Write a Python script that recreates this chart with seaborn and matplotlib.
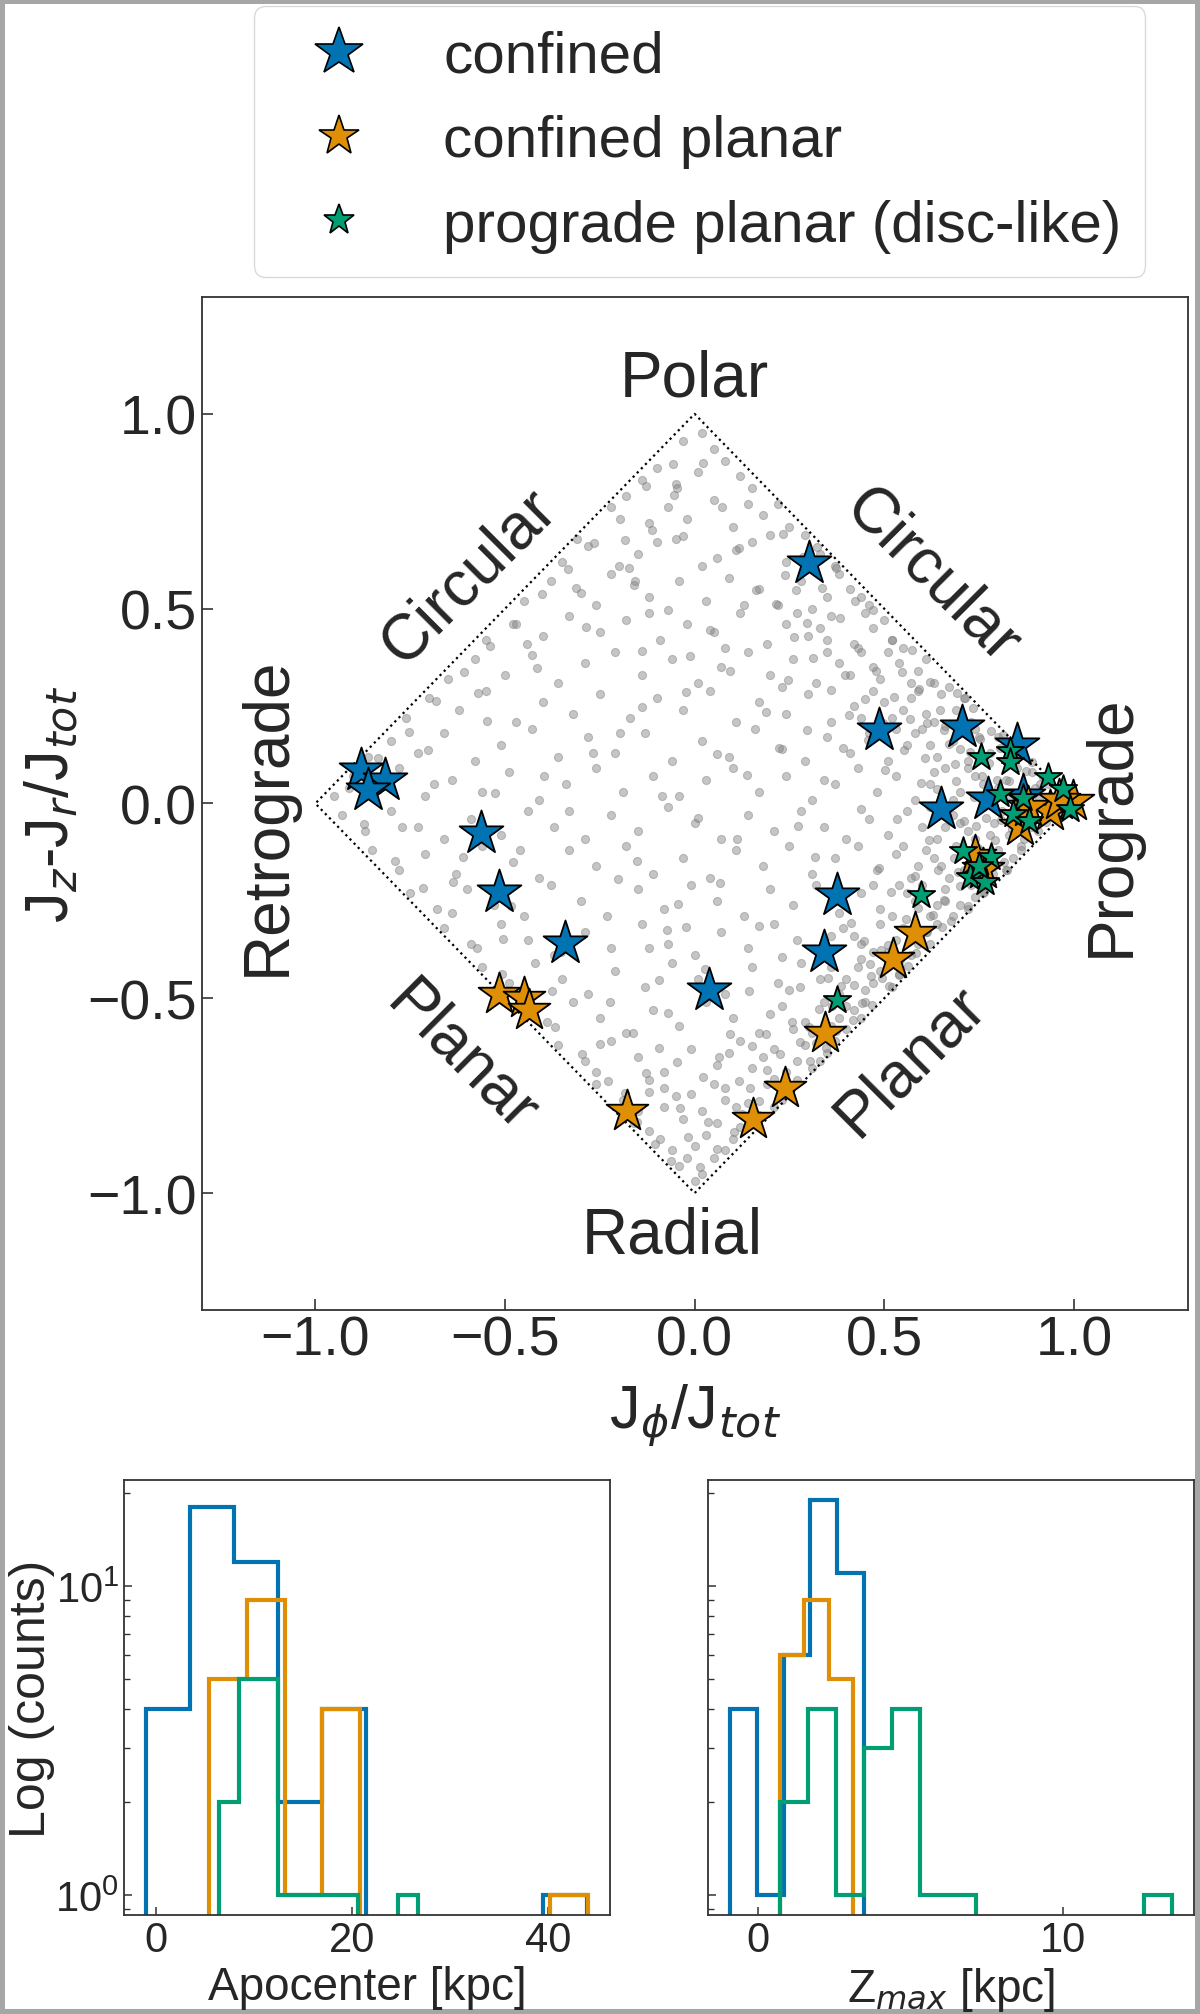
import matplotlib
matplotlib.use("Agg")
import matplotlib.pyplot as plt
from matplotlib.lines import Line2D
import numpy as np
import pandas as pd
import seaborn as sns

# --- star samples in action space (J_phi/J_tot, (J_z-J_r)/J_tot) ---
confined_jphi = [0.302, 0.485, 0.705, 0.850, 0.650, 0.774, 0.866, 0.375, 0.341,
                 0.039, -0.342, -0.515, -0.563, -0.880, -0.817, -0.862]
confined_jzr = [0.617, 0.188, 0.197, 0.150, -0.015, 0.012, 0.020, -0.235, -0.380,
                -0.480, -0.357, -0.226, -0.075, 0.085, 0.060, 0.035]

planar_jphi = [-0.515, -0.449, -0.436, -0.178, 0.153, 0.237, 0.344, 0.522, 0.581,
               0.998, 0.936, 0.857, 0.760, 0.740, 0.880, 0.960]
planar_jzr = [-0.489, -0.499, -0.530, -0.790, -0.809, -0.730, -0.589, -0.399, -0.333,
              0.007, -0.018, -0.057, -0.168, -0.135, -0.010, 0.010]

disc_jphi = [0.756, 0.831, 0.831, 0.804, 0.866, 0.932, 0.971, 0.989, 0.839, 0.883,
             0.708, 0.782, 0.725, 0.765, 0.598, 0.375, 0.750]
disc_jzr = [0.119, 0.136, 0.106, 0.024, 0.015, 0.067, 0.037, -0.014, -0.027, -0.044,
            -0.121, -0.138, -0.189, -0.202, -0.235, -0.504, -0.160]

# background field stars (grey cloud)
field_points = [
    (0.02, 0.95), (-0.03, 0.93), (0.05, 0.91),
    (-0.10, 0.86), (0.08, 0.88), (0.12, 0.84), (-0.05, 0.82), (0.15, 0.81), (0.01, 0.85), (-0.14, 0.83),
    (-0.22, 0.76), (-0.12, 0.72), (0.05, 0.78), (0.18, 0.74), (0.25, 0.71), (-0.02, 0.73), (0.10, 0.71),
    (-0.18, 0.79), (0.14, 0.77), (-0.07, 0.76), (0.22, 0.77),
    (-0.35, 0.62), (-0.28, 0.66), (-0.15, 0.64), (-0.05, 0.68), (0.06, 0.63), (0.15, 0.67), (0.24, 0.62),
    (0.33, 0.64), (0.29, 0.69), (-0.20, 0.61), (0.02, 0.61), (-0.10, 0.67), (0.11, 0.65), (0.37, 0.61),
    (0.20, 0.69), (-0.31, 0.68),
    (-0.45, 0.52), (-0.38, 0.57), (-0.30, 0.54), (-0.22, 0.59), (-0.12, 0.53), (-0.04, 0.57), (0.03, 0.52),
    (0.09, 0.58), (0.17, 0.55), (0.22, 0.51), (0.28, 0.57), (0.35, 0.53), (0.41, 0.55), (0.46, 0.51),
    (-0.16, 0.56), (0.13, 0.51), (0.38, 0.59), (-0.26, 0.51), (0.31, 0.50), (0.44, 0.53),
    (-0.55, 0.42), (-0.48, 0.46), (-0.40, 0.43), (-0.33, 0.48), (-0.25, 0.44), (-0.18, 0.47), (-0.09, 0.42),
    (-0.02, 0.46), (0.05, 0.44), (0.12, 0.49), (0.19, 0.41), (0.24, 0.46), (0.30, 0.43), (0.36, 0.48),
    (0.42, 0.41), (0.47, 0.45), (0.52, 0.42), (0.55, 0.40), (0.33, 0.45), (0.45, 0.49), (-0.12, 0.49),
    (0.08, 0.40), (0.27, 0.49), (0.50, 0.47),
    (-0.65, 0.32), (-0.58, 0.37), (-0.50, 0.33), (-0.43, 0.38), (-0.36, 0.31), (-0.29, 0.36), (-0.21, 0.39),
    (-0.14, 0.33), (-0.06, 0.37), (0.01, 0.31), (0.07, 0.35), (0.14, 0.39), (0.20, 0.33), (0.26, 0.37),
    (0.32, 0.31), (0.38, 0.36), (0.44, 0.39), (0.49, 0.32), (0.54, 0.36), (0.59, 0.34), (0.63, 0.31),
    (0.41, 0.33), (0.51, 0.39), (0.57, 0.31), (0.35, 0.39), (0.47, 0.35), (0.61, 0.37), (0.23, 0.30),
    (-0.76, 0.22), (-0.70, 0.27), (-0.62, 0.24), (-0.55, 0.29), (-0.47, 0.21), (-0.40, 0.26), (-0.32, 0.23),
    (-0.25, 0.28), (-0.17, 0.22), (-0.10, 0.27), (-0.03, 0.24), (0.04, 0.29), (0.11, 0.21), (0.17, 0.26),
    (0.24, 0.23), (0.30, 0.28), (0.36, 0.21), (0.42, 0.25), (0.47, 0.29), (0.52, 0.22), (0.57, 0.27),
    (0.61, 0.23), (0.65, 0.28), (0.69, 0.24), (0.73, 0.21), (0.55, 0.24), (0.63, 0.21), (0.67, 0.30),
    (0.44, 0.22), (0.59, 0.29), (0.71, 0.27), (0.50, 0.26),
    (-0.86, 0.12), (-0.80, 0.16), (-0.73, 0.13), (-0.66, 0.18), (-0.58, 0.11), (-0.51, 0.15), (-0.43, 0.19),
    (-0.36, 0.12), (-0.28, 0.17), (-0.21, 0.13), (-0.13, 0.18), (-0.06, 0.11), (0.02, 0.16), (0.09, 0.12),
    (0.16, 0.19), (0.23, 0.14), (0.29, 0.11), (0.35, 0.17), (0.41, 0.13), (0.46, 0.18), (0.51, 0.11),
    (0.56, 0.15), (0.60, 0.19), (0.64, 0.12), (0.68, 0.16), (0.72, 0.11), (0.75, 0.17), (0.78, 0.13),
    (0.82, 0.11), (0.66, 0.20), (0.70, 0.14), (0.74, 0.19), (0.80, 0.17), (0.62, 0.15), (0.85, 0.12),
    (0.58, 0.18), (0.76, 0.12), (0.53, 0.19),
    (-0.95, 0.02), (-0.90, 0.07), (-0.84, 0.04), (-0.78, 0.09), (-0.71, 0.02), (-0.64, 0.06), (-0.56, 0.03),
    (-0.49, 0.08), (-0.41, 0.01), (-0.34, 0.05), (-0.26, 0.09), (-0.19, 0.03), (-0.11, 0.07), (-0.04, 0.02),
    (0.03, 0.06), (0.10, 0.09), (0.17, 0.03), (0.24, 0.07), (0.31, 0.01), (0.37, 0.05), (0.43, 0.09),
    (0.48, 0.03), (0.53, 0.07), (0.58, 0.01), (0.62, 0.05), (0.66, 0.09), (0.70, 0.03), (0.74, 0.07),
    (0.78, 0.02), (0.82, 0.06), (0.85, 0.09), (0.88, 0.03), (0.91, 0.05), (0.94, 0.02), (0.72, 0.09),
    (0.80, 0.04), (0.86, 0.01), (0.76, 0.05), (0.68, 0.01), (0.89, 0.08), (0.63, 0.08), (0.83, 0.02),
    (-0.93, -0.03), (-0.87, -0.07), (-0.80, -0.02), (-0.73, -0.06), (-0.66, -0.09), (-0.59, -0.04),
    (-0.51, -0.08), (-0.44, -0.02), (-0.37, -0.06), (-0.29, -0.09), (-0.22, -0.03), (-0.15, -0.07),
    (-0.07, -0.01), (0.00, -0.05), (0.07, -0.09), (0.14, -0.03), (0.21, -0.07), (0.28, -0.02),
    (0.34, -0.06), (0.40, -0.09), (0.46, -0.04), (0.51, -0.08), (0.56, -0.02), (0.60, -0.06),
    (0.64, -0.09), (0.68, -0.03), (0.72, -0.07), (0.76, -0.01), (0.79, -0.05), (0.83, -0.08),
    (0.86, -0.03), (0.89, -0.06), (0.92, -0.02), (0.96, -0.03), (0.70, -0.05), (0.81, -0.02),
    (0.74, -0.09), (0.87, -0.01), (0.66, -0.06), (0.78, -0.08), (0.90, -0.04), (0.62, -0.01),
    (-0.85, -0.12), (-0.78, -0.17), (-0.71, -0.13), (-0.63, -0.18), (-0.56, -0.11), (-0.48, -0.15),
    (-0.41, -0.19), (-0.33, -0.12), (-0.26, -0.16), (-0.18, -0.11), (-0.11, -0.18), (-0.03, -0.14),
    (0.04, -0.19), (0.11, -0.12), (0.18, -0.16), (0.25, -0.11), (0.31, -0.18), (0.37, -0.14),
    (0.43, -0.11), (0.48, -0.17), (0.53, -0.13), (0.57, -0.19), (0.61, -0.12), (0.65, -0.16),
    (0.69, -0.11), (0.73, -0.15), (0.77, -0.19), (0.80, -0.12), (0.84, -0.14), (0.67, -0.19),
    (0.71, -0.17), (0.75, -0.12), (0.63, -0.14), (0.79, -0.16), (0.59, -0.16), (0.86, -0.11),
    (0.55, -0.11), (0.82, -0.17),
    (-0.75, -0.23), (-0.68, -0.27), (-0.60, -0.22), (-0.53, -0.26), (-0.45, -0.29), (-0.38, -0.21),
    (-0.30, -0.25), (-0.23, -0.29), (-0.15, -0.22), (-0.08, -0.27), (-0.01, -0.21), (0.06, -0.25),
    (0.13, -0.29), (0.20, -0.22), (0.26, -0.26), (0.32, -0.21), (0.38, -0.28), (0.44, -0.23),
    (0.49, -0.27), (0.54, -0.21), (0.58, -0.25), (0.62, -0.29), (0.66, -0.22), (0.70, -0.26),
    (0.73, -0.21), (0.76, -0.23), (0.64, -0.26), (0.68, -0.29), (0.60, -0.21), (0.72, -0.27),
    (0.52, -0.29), (0.56, -0.23), (0.47, -0.21), (0.74, -0.24), (0.66, -0.25),
    (-0.66, -0.32), (-0.59, -0.36), (-0.51, -0.31), (-0.44, -0.35), (-0.37, -0.39), (-0.29, -0.33),
    (-0.22, -0.37), (-0.14, -0.31), (-0.07, -0.36), (0.00, -0.39), (0.07, -0.33), (0.14, -0.37),
    (0.21, -0.31), (0.27, -0.35), (0.33, -0.39), (0.39, -0.32), (0.44, -0.36), (0.49, -0.31),
    (0.53, -0.35), (0.57, -0.39), (0.61, -0.33), (0.64, -0.31), (0.55, -0.32), (0.59, -0.36),
    (0.47, -0.38), (0.62, -0.36), (0.51, -0.38), (0.42, -0.34), (0.57, -0.34), (0.36, -0.34),
    (-0.56, -0.42), (-0.49, -0.46), (-0.42, -0.41), (-0.35, -0.45), (-0.28, -0.49), (-0.21, -0.43),
    (-0.13, -0.47), (-0.06, -0.41), (0.01, -0.45), (0.08, -0.49), (0.15, -0.42), (0.22, -0.46),
    (0.28, -0.41), (0.33, -0.45), (0.38, -0.49), (0.43, -0.42), (0.47, -0.46), (0.51, -0.41),
    (0.54, -0.44), (0.45, -0.48), (0.49, -0.43), (0.40, -0.45), (0.52, -0.47), (0.36, -0.42),
    (0.25, -0.48), (0.44, -0.40),
    (-0.46, -0.52), (-0.39, -0.56), (-0.32, -0.51), (-0.25, -0.55), (-0.18, -0.59), (-0.11, -0.53),
    (-0.04, -0.57), (0.03, -0.51), (0.10, -0.55), (0.17, -0.59), (0.23, -0.52), (0.29, -0.56),
    (0.34, -0.51), (0.38, -0.55), (0.42, -0.53), (0.45, -0.51), (0.31, -0.59), (0.40, -0.58),
    (0.36, -0.57), (0.20, -0.54), (0.44, -0.55), (0.26, -0.58),
    (-0.36, -0.62), (-0.29, -0.66), (-0.22, -0.61), (-0.15, -0.65), (-0.08, -0.69), (-0.01, -0.63),
    (0.06, -0.67), (0.12, -0.61), (0.18, -0.65), (0.24, -0.69), (0.29, -0.62), (0.33, -0.66),
    (0.37, -0.61), (0.27, -0.66), (0.31, -0.68), (0.21, -0.63), (0.35, -0.64), (-0.26, -0.69),
    (0.15, -0.68), (0.09, -0.64),
    (-0.26, -0.72), (-0.19, -0.76), (-0.12, -0.71), (-0.05, -0.75), (0.02, -0.79), (0.08, -0.73),
    (0.14, -0.77), (0.19, -0.72), (0.23, -0.76), (0.27, -0.71), (0.11, -0.78), (-0.08, -0.78),
    (0.17, -0.80), (0.05, -0.72), (-0.15, -0.79), (0.21, -0.78),
    (-0.16, -0.82), (-0.09, -0.86), (-0.03, -0.81), (0.03, -0.85), (0.08, -0.89), (0.12, -0.83),
    (0.16, -0.81), (-0.06, -0.89), (0.00, -0.88), (0.06, -0.82), (-0.12, -0.84), (0.10, -0.86),
    (-0.04, -0.93), (0.02, -0.95), (0.05, -0.91), (-0.02, -0.91), (0.00, -0.97),
]

# extra field stars where the cloud is densest (prograde corner, lower-right edge)
field_points_dense = [
    (0.613, 0.207), (0.648, 0.241), (0.671, 0.153), (0.692, 0.284), (0.717, 0.198), (0.733, 0.244),
    (0.758, 0.071), (0.781, 0.187), (0.804, 0.142), (0.829, 0.058), (0.851, 0.117), (0.874, 0.083),
    (0.897, 0.041), (0.918, 0.069), (0.943, 0.011), (0.962, 0.027), (0.607, 0.118), (0.639, 0.037),
    (0.663, -0.021), (0.687, 0.102), (0.709, -0.046), (0.726, 0.131), (0.747, -0.114), (0.768, -0.037),
    (0.793, -0.093), (0.816, -0.151), (0.838, -0.066), (0.861, -0.119), (0.884, -0.022), (0.906, -0.071),
    (0.927, -0.048), (0.951, -0.019), (0.618, -0.093), (0.642, -0.171), (0.658, -0.248), (0.683, -0.139),
    (0.701, -0.213), (0.722, -0.262), (0.741, -0.057), (0.763, -0.228), (0.786, -0.181), (0.809, -0.043),
    (0.823, -0.171), (0.846, -0.009), (0.869, -0.091), (0.613, -0.331), (0.629, -0.287), (0.652, -0.318),
    (0.676, -0.301), (0.694, -0.176), (0.603, -0.228), (0.621, 0.312), (0.657, 0.189), (0.689, 0.059),
    (0.712, 0.271), (0.737, 0.017), (0.752, 0.166), (0.776, 0.104), (0.798, 0.061), (0.813, 0.177),
    (0.842, 0.153), (0.866, 0.044), (0.889, 0.107), (0.908, 0.012), (0.931, 0.049),
    (0.214, 0.512), (0.238, 0.587), (0.263, 0.428), (0.287, 0.633), (0.311, 0.374), (0.336, 0.552),
    (0.359, 0.291), (0.383, 0.477), (0.407, 0.226), (0.431, 0.398), (0.456, 0.163), (0.478, 0.341),
    (0.502, 0.086), (0.527, 0.274), (0.551, 0.137), (0.574, 0.393), (0.596, 0.052), (0.223, 0.143),
    (0.247, 0.317), (0.272, -0.058), (0.296, 0.189), (0.318, -0.137), (0.342, 0.061), (0.367, -0.251),
    (0.392, 0.142), (0.413, -0.307), (0.438, -0.013), (0.462, -0.412), (0.486, -0.166), (0.509, -0.364),
    (0.533, -0.041), (0.558, -0.297), (0.582, -0.187), (0.231, -0.394), (0.256, -0.561), (0.279, -0.472),
    (0.303, -0.662), (0.327, -0.528), (0.351, -0.447), (0.374, -0.583), (0.398, -0.521), (0.421, -0.467),
    (0.447, -0.353), (0.469, -0.517), (0.493, -0.448), (0.517, -0.226), (0.541, -0.403), (0.566, -0.352),
    (0.588, -0.267), (0.209, -0.708), (0.226, -0.642), (0.252, -0.724), (0.277, -0.611), (0.301, -0.573),
    (0.321, -0.614), (0.346, -0.628), (0.362, -0.519), (0.386, -0.468), (0.418, -0.556), (0.441, -0.511),
    (0.466, -0.442), (0.491, -0.377), (0.513, -0.469), (0.539, -0.437), (0.563, -0.418), (0.584, -0.383),
    (0.232, 0.691), (0.267, 0.548), (0.296, 0.462), (0.322, 0.658), (0.348, 0.419), (0.373, 0.604),
    (0.397, 0.331), (0.423, 0.521), (0.448, 0.268), (0.471, 0.497), (0.497, 0.206), (0.521, 0.419),
    (0.546, 0.337), (0.569, 0.218), (0.591, 0.293),
    (-0.183, -0.742), (-0.151, -0.817), (-0.127, -0.693), (-0.104, -0.874), (-0.082, -0.731),
    (-0.061, -0.918), (-0.038, -0.782), (-0.017, -0.856), (0.013, -0.934), (0.034, -0.818),
    (0.058, -0.886), (0.079, -0.762), (0.103, -0.843), (0.126, -0.798), (0.147, -0.731), (0.171, -0.764),
    (0.192, -0.683), (0.021, -0.702), (0.064, -0.651), (0.118, -0.712), (-0.046, -0.663), (0.152, -0.623),
    (0.187, -0.592), (-0.009, -0.746),
    (-0.912, 0.041), (-0.873, -0.052), (-0.834, 0.117), (-0.791, -0.148), (-0.752, 0.183),
    (-0.716, -0.217), (-0.683, 0.262), (-0.641, -0.281), (-0.608, 0.338), (-0.574, -0.372),
    (-0.539, 0.404), (-0.507, -0.438), (-0.472, 0.461), (-0.436, -0.517), (-0.403, 0.537),
    (-0.368, -0.574), (-0.334, 0.602), (-0.298, -0.643), (-0.264, 0.668), (-0.229, -0.712),
    (-0.196, 0.731), (-0.162, -0.588), (-0.127, 0.814), (-0.093, -0.452), (-0.058, 0.871),
    (-0.024, -0.317), (-0.687, 0.049), (-0.612, -0.137), (-0.547, 0.211), (-0.483, -0.263),
    (-0.416, 0.347), (-0.352, -0.381), (-0.287, 0.454), (-0.223, -0.509), (-0.158, 0.571),
    (-0.094, -0.627), (-0.031, 0.686), (-0.772, -0.061), (-0.703, 0.138), (-0.638, -0.201),
    (-0.571, 0.284), (-0.506, -0.347), (-0.441, 0.409), (-0.377, -0.482), (-0.312, 0.553),
    (-0.249, -0.618), (-0.184, 0.677), (-0.119, -0.741), (-0.054, 0.793), (-0.396, 0.071),
    (-0.332, -0.018), (-0.268, 0.129), (-0.203, -0.194), (-0.139, 0.247), (-0.074, -0.326),
    (-0.011, 0.378), (-0.461, -0.119), (-0.527, 0.027),
    (0.021, 0.874), (-0.047, 0.811), (0.073, 0.762), (-0.112, 0.703), (0.118, 0.656), (-0.173, 0.604),
    (0.163, 0.548), (-0.069, 0.497), (0.041, 0.446), (-0.138, 0.392), (0.092, 0.341), (-0.024, 0.287),
    (0.187, 0.236), (-0.197, 0.181), (0.058, 0.127), (0.138, 0.073), (-0.087, 0.019), (0.009, -0.036),
    (0.112, -0.092), (-0.151, -0.148), (0.067, -0.203), (-0.043, -0.259), (0.171, -0.314),
    (-0.119, -0.371), (0.028, -0.426), (0.143, -0.481), (-0.071, -0.537), (0.094, -0.592),
]

# outline of the allowed action space
boundary_jphi = [1.0, 0.0, -1.0, 0.0, 1.0]
boundary_jzr = [0.0, 1.0, 0.0, -1.0, 0.0]

# region names: (text, x, y, rotation)
region_labels = [
    ("Polar", 0.0, 1.09, 0),
    ("Radial", -0.06, -1.11, 0),
    ("Retrograde", -1.125, -0.03, 90),
    ("Prograde", 1.10, -0.055, 90),
    ("Circular", -0.595, 0.585, 45),
    ("Circular", 0.625, 0.585, -45),
    ("Planar", -0.615, -0.65, -45),
    ("Planar", 0.57, -0.66, 45),
]

# histograms: bin edges and counts per population
apo_edges_confined = [-1.0, 3.5, 8.0, 12.5, 17.0, 21.5, 26.0, 30.5, 35.0, 39.5, 44.0]
apo_counts_confined = [4, 18, 12, 2, 4, 0, 0, 0, 0, 1]
apo_edges_planar = [5.4, 9.27, 13.14, 17.01, 20.88, 24.75, 28.62, 32.49, 36.36, 40.23, 44.1]
apo_counts_planar = [5, 9, 1, 4, 0, 0, 0, 0, 0, 1]
apo_edges_disc = [6.4, 8.44, 10.48, 12.52, 14.56, 16.6, 18.64, 20.68, 22.72, 24.76, 26.8]
apo_counts_disc = [2, 5, 5, 1, 1, 1, 1, 0, 0, 1]

zmax_edges_confined = [-0.93, -0.05, 0.83, 1.71, 2.59, 3.47]
zmax_counts_confined = [4, 1, 6, 19, 11]
zmax_edges_planar = [0.71, 1.51, 2.31, 3.11]
zmax_counts_planar = [6, 9, 5]
zmax_edges_disc = [0.71, 1.63, 2.55, 3.47, 4.39, 5.31, 6.23, 7.15, 8.07, 8.99,
                   9.91, 10.83, 11.75, 12.67, 13.59]
zmax_counts_disc = [2, 4, 1, 3, 4, 1, 1, 0, 0, 0, 0, 0, 0, 1]

labels = ["confined", "confined planar", "prograde planar (disc-like)"]

sns.set_theme(style="ticks")
plt.rcParams["font.family"] = ["Liberation Sans", "DejaVu Sans"]
plt.rcParams["axes.edgecolor"] = "#333333"
plt.rcParams["axes.linewidth"] = 1.3
plt.rcParams["xtick.direction"] = "in"
plt.rcParams["ytick.direction"] = "in"
palette = sns.color_palette("colorblind")
blue, orange, green = palette[0], palette[1], palette[2]
text_color = "#262626"

fig = plt.figure(figsize=(12, 20.15), dpi=100)
fig.patch.set_edgecolor("#a6a6a6")
fig.patch.set_linewidth(6)

# ---- main action-space panel ----
ax = fig.add_axes([0.168, 0.3494, 0.8217, 0.5027])
field = pd.DataFrame(field_points + field_points_dense, columns=["jphi", "jzr"])
sns.scatterplot(data=field, x="jphi", y="jzr", ax=ax, color="grey", alpha=0.45,
                s=34, edgecolor="grey", linewidth=0.8, legend=False, zorder=1)
ax.plot(boundary_jphi, boundary_jzr, ls=":", color="black", lw=1.6, zorder=2)

sns.scatterplot(x=confined_jphi, y=confined_jzr, ax=ax, marker="*", s=1100,
                color=blue, edgecolor="black", linewidth=1.3, zorder=3)
sns.scatterplot(x=planar_jphi, y=planar_jzr, ax=ax, marker="*", s=1000,
                color=orange, edgecolor="black", linewidth=1.3, zorder=4)
sns.scatterplot(x=disc_jphi, y=disc_jzr, ax=ax, marker="*", s=430,
                color=green, edgecolor="black", linewidth=1.3, zorder=5)

for text, x, y, rot in region_labels:
    ax.text(x, y, text, rotation=rot, ha="center", va="center", fontsize=46,
            color=text_color, rotation_mode="anchor")

ax.set_xlim(-1.3, 1.3)
ax.set_ylim(-1.3, 1.3)
ax.set_xticks([-1.0, -0.5, 0.0, 0.5, 1.0])
ax.set_yticks([-1.0, -0.5, 0.0, 0.5, 1.0])
ax.tick_params(labelsize=40, length=8, width=1.2, colors="#333333", labelcolor=text_color)
ax.set_xlabel("J$_\\phi$/J$_{tot}$", fontsize=44, color=text_color, labelpad=10)
ax.set_ylabel("J$_z$-J$_r$/J$_{tot}$", fontsize=44, color=text_color, labelpad=4)

handles = [
    Line2D([], [], ls="none", marker="*", markersize=36, markerfacecolor=blue,
           markeredgecolor="black", markeredgewidth=1.2),
    Line2D([], [], ls="none", marker="*", markersize=30, markerfacecolor=orange,
           markeredgecolor="black", markeredgewidth=1.2),
    Line2D([], [], ls="none", marker="*", markersize=23, markerfacecolor=green,
           markeredgecolor="black", markeredgewidth=1.2),
]
fig.legend(handles, labels, loc="upper center", bbox_to_anchor=(0.583, 0.9965),
           borderaxespad=0, fontsize=42, frameon=True, fancybox=True,
           edgecolor="#d0d0d0", handletextpad=0.74, labelspacing=0.52,
           borderpad=0.41, handlelength=2.09)

# ---- histograms ----
ax_apo = fig.add_axes([0.1033, 0.0491, 0.405, 0.2159])
ax_z = fig.add_axes([0.59, 0.0491, 0.405, 0.2159], sharey=ax_apo)

apo_sets = [(apo_edges_confined, apo_counts_confined, blue),
            (apo_edges_planar, apo_counts_planar, orange),
            (apo_edges_disc, apo_counts_disc, green)]
z_sets = [(zmax_edges_confined, zmax_counts_confined, blue),
          (zmax_edges_planar, zmax_counts_planar, orange),
          (zmax_edges_disc, zmax_counts_disc, green)]

for hax, sets in [(ax_apo, apo_sets), (ax_z, z_sets)]:
    for edges, counts, col in sets:
        edges = np.asarray(edges)
        centres = 0.5 * (edges[:-1] + edges[1:])
        hax.hist(centres, bins=edges, weights=counts, histtype="step",
                 log=True, color=col, lw=3.0)
    hax.tick_params(which="major", labelsize=30, length=6, width=1.1,
                    colors="#333333", labelcolor=text_color)
    hax.tick_params(which="minor", length=4.5, width=1.0, colors="#333333")

ax_z.tick_params(axis="y", which="both", labelleft=False)
ax_apo.set_xticks([0, 20, 40])
ax_z.set_xticks([0, 10])
ax_apo.set_xlabel("Apocenter [kpc]", fontsize=33, color=text_color, labelpad=4)
ax_z.set_xlabel("Z$_{max}$ [kpc]", fontsize=33, color=text_color, labelpad=4)
ax_apo.set_ylabel("Log (counts)", fontsize=36, color=text_color, labelpad=0)

fig.savefig("out.png", dpi=100, edgecolor=fig.get_edgecolor())
